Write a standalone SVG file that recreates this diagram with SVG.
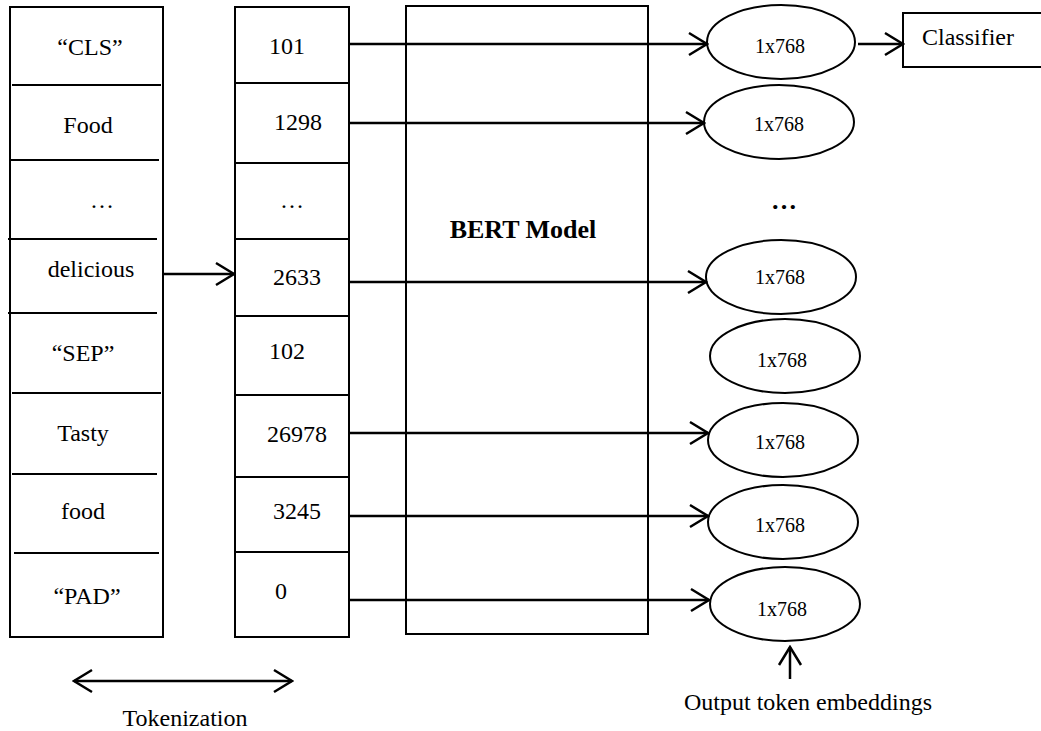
<svg xmlns="http://www.w3.org/2000/svg" width="1041" height="731" viewBox="0 0 1041 731">
  <style>
    .box { fill: #fff; stroke: #000; stroke-width: 2; }
    .div { stroke: #000; stroke-width: 2; }
    .t { font-family: "Liberation Serif", "Times New Roman", serif; font-size: 24px; fill: #000; text-anchor: middle; }
    .e { font-family: "Liberation Serif", "Times New Roman", serif; font-size: 20px; fill: #000; text-anchor: middle; }
    .b { font-family: "Liberation Serif", "Times New Roman", serif; font-size: 26px; font-weight: bold; fill: #000; text-anchor: middle; }
    .emb { fill: #fff; stroke: #000; stroke-width: 2; }
    .wire { stroke: #000; stroke-width: 2.5; fill: none; }
  </style>
  <defs>
    <marker id="head" viewBox="0 0 22 26" refX="20" refY="13" markerWidth="22" markerHeight="26" markerUnits="userSpaceOnUse" orient="auto-start-reverse">
      <path d="M2,2 L20,13 L2,24" fill="none" stroke="#000" stroke-width="2.5"/>
    </marker>
  </defs>

  <rect width="1041" height="731" fill="#fff"/>

  <!-- input words -->
  <g id="words">
    <rect class="box" x="10" y="7" width="153" height="630"/>
    <line class="div" x1="12" y1="85" x2="161" y2="85"/>
    <line class="div" x1="10" y1="160" x2="159" y2="160"/>
    <line class="div" x1="8" y1="239" x2="157" y2="239"/>
    <line class="div" x1="8" y1="313" x2="157" y2="313"/>
    <line class="div" x1="12" y1="393" x2="161" y2="393"/>
    <line class="div" x1="12" y1="474" x2="157" y2="474"/>
    <line class="div" x1="14" y1="553" x2="159" y2="553"/>
    <text class="t" x="90" y="55">“CLS”</text>
    <text class="t" x="88" y="133">Food</text>
    <text class="t" x="102" y="208">…</text>
    <text class="t" x="91" y="277">delicious</text>
    <text class="t" x="83" y="361">“SEP”</text>
    <text class="t" x="83" y="441">Tasty</text>
    <text class="t" x="83" y="519">food</text>
    <text class="t" x="87" y="604">“PAD”</text>
  </g>

  <!-- token ids -->
  <g id="token-ids">
    <rect class="box" x="235" y="7" width="114" height="630"/>
    <line class="div" x1="235" y1="83" x2="349" y2="83"/>
    <line class="div" x1="235" y1="163" x2="349" y2="163"/>
    <line class="div" x1="235" y1="239" x2="349" y2="239"/>
    <line class="div" x1="235" y1="316" x2="350" y2="316"/>
    <line class="div" x1="235" y1="395" x2="350" y2="395"/>
    <line class="div" x1="235" y1="477" x2="349" y2="477"/>
    <line class="div" x1="235" y1="552" x2="350" y2="552"/>
    <text class="t" x="287" y="54">101</text>
    <text class="t" x="298" y="130">1298</text>
    <text class="t" x="292" y="208">…</text>
    <text class="t" x="297" y="285">2633</text>
    <text class="t" x="287" y="359">102</text>
    <text class="t" x="297" y="442">26978</text>
    <text class="t" x="297" y="519">3245</text>
    <text class="t" x="281" y="599">0</text>
  </g>

  <!-- BERT model -->
  <g id="bert">
    <rect class="box" x="406" y="6" width="242" height="628"/>
    <text class="b" x="523" y="238">BERT Model</text>
  </g>

  <!-- output embeddings -->
  <g id="emb-cls">
    <ellipse class="emb" cx="781" cy="42" rx="74" ry="37"/>
    <text class="e" x="780" y="53">1x768</text>
  </g>
  <g id="emb-food">
    <ellipse class="emb" cx="779" cy="122" rx="75" ry="37"/>
    <text class="e" x="779" y="131">1x768</text>
  </g>
  <g id="emb-more">
    <text class="b" x="784" y="209" font-size="22">…</text>
  </g>
  <g id="emb-delicious">
    <ellipse class="emb" cx="781" cy="277" rx="75" ry="37"/>
    <text class="e" x="780" y="284">1x768</text>
  </g>
  <g id="emb-sep">
    <ellipse class="emb" cx="785" cy="356" rx="75" ry="37"/>
    <text class="e" x="782" y="367">1x768</text>
  </g>
  <g id="emb-tasty">
    <ellipse class="emb" cx="783" cy="440" rx="75" ry="37"/>
    <text class="e" x="780" y="449">1x768</text>
  </g>
  <g id="emb-food2">
    <ellipse class="emb" cx="783" cy="522" rx="75" ry="37"/>
    <text class="e" x="780" y="532">1x768</text>
  </g>
  <g id="emb-pad">
    <ellipse class="emb" cx="785" cy="604" rx="75" ry="37"/>
    <text class="e" x="782" y="616">1x768</text>
  </g>

  <!-- classifier -->
  <g id="classifier">
    <rect class="box" x="903" y="13" width="145" height="54"/>
    <text class="t" x="968" y="45">Classifier</text>
  </g>

  <!-- captions -->
  <g id="captions">
    <text class="t" x="185" y="726">Tokenization</text>
    <text class="t" x="808" y="710">Output token embeddings</text>
  </g>

  <!-- connectors -->
  <g id="connectors">
    <line class="wire" x1="163" y1="274" x2="234" y2="274" marker-end="url(#head)"/>
    <line class="wire" x1="349" y1="44" x2="707" y2="44" marker-end="url(#head)"/>
    <line class="wire" x1="349" y1="123" x2="704" y2="123" marker-end="url(#head)"/>
    <line class="wire" x1="349" y1="282" x2="706" y2="282" marker-end="url(#head)"/>
    <line class="wire" x1="349" y1="433" x2="708" y2="433" marker-end="url(#head)"/>
    <line class="wire" x1="349" y1="516" x2="708" y2="516" marker-end="url(#head)"/>
    <line class="wire" x1="349" y1="600" x2="709" y2="600" marker-end="url(#head)"/>
    <line class="wire" x1="858" y1="44" x2="903" y2="44" marker-end="url(#head)"/>
    <line class="wire" x1="74" y1="681" x2="292" y2="681" marker-start="url(#head)" marker-end="url(#head)"/>
    <line class="wire" x1="790" y1="679" x2="790" y2="647" marker-end="url(#head)"/>
  </g>
</svg>
